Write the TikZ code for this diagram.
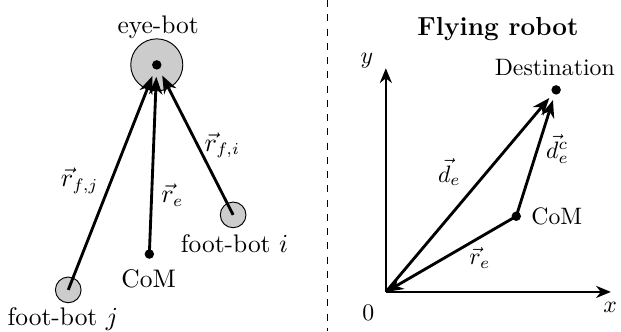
\documentclass[tikz,border=0pt]{standalone}
\usepackage{amsmath,amssymb}
\usepackage{tikz}
\usetikzlibrary{arrows.meta,positioning,calc}

\begin{document}
\begin{tikzpicture}[
      robot/.style={circle, draw=black, fill=gray!40, inner sep=0pt},
      dot/.style={circle, fill=black, inner sep=0pt, minimum size=0.14cm},
      vec/.style={-{Stealth[length=2.6mm,width=2mm]}, line width=1.2pt},
      axis/.style={-{Stealth[length=2.2mm,width=1.8mm]}, line width=0.8pt},
      lbl/.style={anchor=base, inner sep=0pt},
      bigtxt/.style={font=\fontsize{10.7}{13}\selectfont}
    ]
      \useasboundingbox (0,0) rectangle (9.19,4.90);
      % left: robot swarm
      \begin{scope}[every node/.append style={bigtxt}]
      \node[robot, minimum size=0.77cm] (eye) at (2.32,3.94) {};
      \node[dot] (eyec) at (eye.center) {};
      \node[lbl] (eyelbl) at (2.34,4.41) {eye-bot};
      \node[robot, minimum size=0.38cm] (fj) at (1.01,0.61) {};
      \node[robot, minimum size=0.38cm] (fi) at (3.45,1.72) {};
      \node[dot] (coml) at (2.21,1.14) {};
      \node[lbl] (fjlbl) at (0.93,0.09) {foot-bot $j$};
      \node[lbl] (filbl) at (3.47,1.17) {foot-bot $i$};
      \node[lbl] (comllbl) at (2.20,0.65) {CoM};
      \draw[vec, shorten >=0.1cm] (fj.center)--(eyec);
      \draw[vec, shorten >=0.1cm] (coml.center)--(eyec);
      \draw[vec, shorten >=0.1cm] (fi.center)--(eyec);
      \node (rfj) at (1.18,2.23) {$\vec{r}_{f,j}$};
      \node (rel) at (2.55,2.01) {$\vec{r}_e$};
      \node (rfi) at (3.29,2.75) {$\vec{r}_{f,i}$};
      \end{scope}
      % separator
      \coordinate (septop) at (4.85,4.90);
      \coordinate (sepbot) at (4.85,0);
      \draw[dashed] (septop)--(sepbot);
      % right: flying robot
      \node[lbl, font=\fontsize{11}{13}\selectfont\bfseries] (title) at (7.37,4.38) {Flying robot};
      \coordinate (o) at (5.71,0.58);
      \coordinate (ytop) at (5.71,3.89);
      \coordinate (xend) at (9.04,0.58);
      \draw[axis] (o)--(ytop);
      \draw[axis] (o)--(xend);
      \node[lbl] (ylbl) at (5.43,3.96) {$y$};
      \node[lbl] (xlbl) at (9.03,0.27) {$x$};
      \node[lbl] (olbl) at (5.45,0.16) {$0$};
      \node[dot] (dest) at (8.23,3.57) {};
      \node[lbl] (destlbl) at (8.21,3.79) {Destination};
      \node[dot] (comr) at (7.64,1.70) {};
      \node[lbl] (comrlbl) at (8.24,1.58) {CoM};
      \draw[vec, shorten >=0.08cm] (o)--(dest);
      \draw[vec, shorten >=0.08cm] (comr.center)--(dest);
      \draw[vec] (comr.center)--(o);
      \node (de) at (6.65,2.35) {$\vec{d}_e$};
      \node (dec) at (8.25,2.69) {$\vec{d}_e^c$};
      \node (rer) at (7.10,1.08) {$\vec{r}_e$};
    \end{tikzpicture}
\end{document}
